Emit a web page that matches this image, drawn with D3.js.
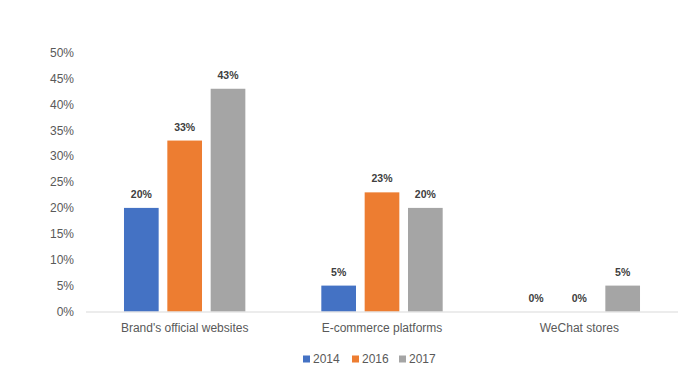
<!DOCTYPE html>
<html>
<head>
<meta charset="utf-8">
<script src="https://cdn.jsdelivr.net/npm/d3@7"></script>
<style>
  html, body { margin: 0; padding: 0; background: #fff; }
  svg { display: block; font-family: "Liberation Sans", Arial, sans-serif; }
</style>
</head>
<body>
<svg id="chart" width="686" height="380"></svg>
<script>
const categories = ["Brand's official websites", "E-commerce platforms", "WeChat stores"];
const seriesNames = ["2014", "2016", "2017"];
const values2014 = [20, 5, 0];
const values2016 = [33, 23, 0];
const values2017 = [43, 20, 5];
const yTicks = [0, 5, 10, 15, 20, 25, 30, 35, 40, 45, 50];
const colors = ["#4472C4", "#ED7D31", "#A5A5A5"];

(function () {
const seriesValues = [values2014, values2016, values2017];
const data = categories.map((c, i) => ({
  category: c,
  values: seriesNames.map((s, j) => ({ series: s, value: seriesValues[j][i], color: colors[j] }))
}));

const svg = d3.select("#chart");
const mLeft = 86, mRight = 678, mTop = 52.5, mBottom = 311.5;

const x0 = d3.scaleBand().domain(categories).range([mLeft, mRight]).paddingInner(0.385).paddingOuter(0.1925);
const x1 = d3.scaleBand().domain(seriesNames).range([0, x0.bandwidth()]).paddingInner(0.2).paddingOuter(0);
const y = d3.scaleLinear().domain([0, 50]).range([mBottom, mTop]);

// y axis labels
const yAxis = d3.axisLeft(y).tickValues(yTicks).tickFormat(d => d + "%").tickSize(0).tickPadding(0);
const yg = svg.append("g").attr("transform", `translate(${74},0)`).call(yAxis);
yg.select(".domain").remove();
yg.selectAll("text").attr("fill", "#595959").attr("font-size", "12px")
  .attr("font-family", "Liberation Sans, Arial, sans-serif");

// bars
const groups = svg.append("g").selectAll("g").data(data).join("g")
  .attr("transform", d => `translate(${x0(d.category)},0)`);

groups.selectAll("rect").data(d => d.values).join("rect")
  .attr("x", d => x1(d.series))
  .attr("y", d => y(d.value))
  .attr("width", x1.bandwidth())
  .attr("height", d => y(0) - y(d.value))
  .attr("fill", d => d.color);

groups.selectAll("text.lbl").data(d => d.values).join("text")
  .attr("class", "lbl")
  .attr("x", d => x1(d.series) + x1.bandwidth() / 2)
  .attr("y", d => y(d.value) - 10)
  .attr("text-anchor", "middle")
  .attr("font-size", "10.5px")
  .attr("font-weight", "bold")
  .attr("fill", "#404040")
  .text(d => d.value + "%");

// x axis baseline and labels
const xAxis = d3.axisBottom(x0).tickSize(0).tickPadding(12);
const xg = svg.append("g").attr("transform", `translate(0,${mBottom})`).call(xAxis);
xg.select(".domain").attr("stroke", "#D9D9D9").attr("d", `M${mLeft},0.5H${mRight}`);
xg.selectAll("text").attr("fill", "#595959").attr("font-size", "12px")
  .attr("font-family", "Liberation Sans, Arial, sans-serif");

// legend
const legendX = [303, 352, 399];
const legend = svg.append("g").selectAll("g").data(seriesNames).join("g")
  .attr("transform", (d, i) => `translate(${legendX[i]},359)`);
legend.append("rect").attr("x", 0).attr("y", -3.5).attr("width", 7).attr("height", 7)
  .attr("fill", (d, i) => colors[i]);
legend.append("text").attr("x", 10).attr("y", 0).attr("dy", "0.35em")
  .attr("font-size", "12px").attr("fill", "#595959").text(d => d);
})();
</script>
</body>
</html>
